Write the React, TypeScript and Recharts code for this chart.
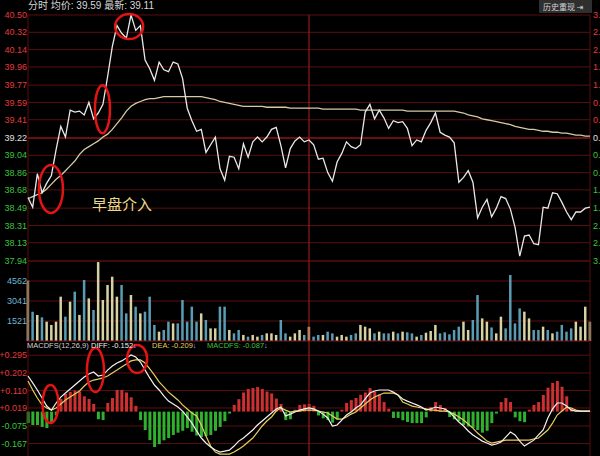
import {
  ComposedChart,
  Line,
  Bar,
  Cell,
  XAxis,
  YAxis,
  CartesianGrid,
  ReferenceLine,
  ReferenceDot,
} from "recharts"

// one point every two minutes of the session
const price = [
  38.6, 38.5, 38.85, 38.65, 38.75, 38.83, 39.1, 39.34, 39.23, 39.51,
  39.49, 39.5, 39.46, 39.59, 39.42, 39.48, 39.57, 39.86, 40.17, 40.39,
  40.31, 40.26, 40.5, 40.34, 40.39, 40.03, 39.94, 39.82, 40.01, 39.93,
  39.91, 40.01, 39.99, 39.84, 39.53, 39.4, 39.29, 39.31, 39.07, 39.15,
  39.23, 38.9, 38.78, 39.03, 39.02, 38.9, 39.16, 39.02, 39.18, 39.23,
  39.18, 39.23, 39.31, 39.33, 39.14, 38.91, 39.11, 39.19, 39.23, 39.18,
  39.2, 39.15, 39.0, 39.01, 38.86, 38.77, 38.97, 39.06, 39.18, 39.13,
  39.11, 39.15, 39.49, 39.57, 39.42, 39.51, 39.43, 39.32, 39.4, 39.38,
  39.39, 39.32, 39.14, 39.2, 39.18, 39.3, 39.38, 39.48, 39.28, 39.25,
  39.23, 39.17, 38.76, 38.81, 38.88, 38.76, 38.39, 38.5, 38.58, 38.4,
  38.49, 38.61, 38.59, 38.48, 38.29, 37.99, 38.2, 38.21, 38.12, 38.11,
  38.5, 38.49, 38.65, 38.64, 38.55, 38.45, 38.37, 38.45, 38.45, 38.49,
  38.5,
]

const avgPrice = [
  38.59, 38.61, 38.63, 38.65, 38.69, 38.74, 38.79, 38.83, 38.88, 38.93,
  38.98, 39.05, 39.1, 39.13, 39.16, 39.19, 39.23, 39.26, 39.31, 39.37,
  39.43, 39.5, 39.55, 39.58, 39.6, 39.62, 39.63, 39.63, 39.64, 39.65,
  39.65, 39.65, 39.65, 39.65, 39.65, 39.65, 39.65, 39.65, 39.64, 39.63,
  39.62, 39.6, 39.59, 39.58, 39.57, 39.56, 39.55, 39.55, 39.55, 39.55,
  39.55, 39.54, 39.54, 39.54, 39.54, 39.54, 39.53, 39.53, 39.53, 39.53,
  39.53, 39.53, 39.53, 39.52, 39.52, 39.52, 39.52, 39.52, 39.52, 39.52,
  39.52, 39.51, 39.51, 39.51, 39.51, 39.51, 39.51, 39.51, 39.51, 39.51,
  39.51, 39.5, 39.5, 39.5, 39.5, 39.5, 39.5, 39.5, 39.5, 39.5,
  39.5, 39.5, 39.49, 39.48, 39.46, 39.45, 39.44, 39.42, 39.41, 39.4,
  39.39, 39.38, 39.37, 39.36, 39.34, 39.33, 39.32, 39.31, 39.31, 39.3,
  39.29, 39.29, 39.28, 39.28, 39.27, 39.27, 39.26, 39.25, 39.25, 39.24,
  39.24,
]

const volume = [
  4600, 2230, 1980, 1800, 1470, 1220, 1470, 3370, 1850, 2990,
  3750, 1980, 4640, 3240, 2360, 6000, 3120, 4260, 4890, 3370,
  4260, 2100, 3500, 2610, 2100, 2230, 3370, 1220, 710, 840,
  1470, 1340, 1340, 3120, 1470, 2610, 1470, 2100, 1600, 960,
  960, 2610, 2610, 840, 580, 840, 460, 330, 460, 330,
  460, 580, 580, 460, 1600, 580, 330, 580, 840, 460,
  1080, 330, 460, 460, 710, 580, 330, 460, 330, 460,
  580, 1220, 1090, 960, 580, 710, 580, 580, 710, 580,
  710, 660, 580, 330, 460, 630, 760, 1220, 580, 660,
  510, 840, 1090, 1470, 840, 1600, 3500, 1720, 1470, 1030,
  580, 1850, 960, 5020, 1340, 2480, 2230, 1720, 840, 840,
  1090, 840, 580, 710, 1220, 710, 960, 1470, 1090, 2610,
  1470,
]

const diff = [
  0.186, 0.15, 0.113, 0.071, 0.029, 0.008, 0.045, 0.076, 0.097, 0.118,
  0.139, 0.16, 0.181, 0.197, 0.207, 0.186, 0.191, 0.217, 0.238, 0.254,
  0.265, 0.28, 0.296, 0.285, 0.259, 0.217, 0.176, 0.139, 0.113, 0.082,
  0.055, 0.04, 0.024, 0.003, -0.028, -0.06, -0.101, -0.138, -0.164, -0.185,
  -0.201, -0.211, -0.206, -0.201, -0.18, -0.154, -0.138, -0.117, -0.096, -0.07,
  -0.049, -0.028, -0.007, 0.014, 0.024, -0.023, -0.013, -0.002, 0.008, 0.014,
  0.019, 0.014, 0.003, -0.013, -0.033, -0.075, -0.07, -0.044, -0.018, -0.002,
  0.019, 0.035, 0.066, 0.097, 0.108, 0.113, 0.113, 0.113, 0.102, 0.087,
  0.066, 0.055, 0.045, 0.035, 0.024, 0.008, 0.014, 0.024, 0.019, 0.014,
  -0.002, -0.028, -0.054, -0.075, -0.101, -0.122, -0.138, -0.154, -0.164, -0.175,
  -0.169, -0.159, -0.133, -0.107, -0.122, -0.154, -0.18, -0.164, -0.149, -0.122,
  -0.096, -0.033, 0.014, 0.045, 0.045, 0.029, 0.008, 0.003, 0.003, 0.003,
  0.003,
]

const dea = [
  0.16, 0.113, 0.071, 0.035, 0.019, 0.008, 0.019, 0.04, 0.061, 0.076,
  0.092, 0.108, 0.134, 0.155, 0.165, 0.17, 0.176, 0.186, 0.202, 0.217,
  0.233, 0.249, 0.265, 0.27, 0.27, 0.254, 0.223, 0.191, 0.155, 0.129,
  0.102, 0.082, 0.061, 0.035, 0.014, -0.007, -0.023, -0.07, -0.128, -0.18,
  -0.211, -0.222, -0.222, -0.222, -0.211, -0.196, -0.18, -0.159, -0.138, -0.107,
  -0.075, -0.049, -0.028, 0.003, 0.019, 0.008, -0.002, 0.003, 0.003, 0.008,
  0.008, 0.008, 0.003, -0.002, -0.007, -0.023, -0.039, -0.039, -0.028, -0.013,
  -0.002, 0.019, 0.04, 0.061, 0.076, 0.087, 0.097, 0.097, 0.097, 0.087,
  0.05, 0.04, 0.029, 0.024, 0.019, 0.014, 0.008, 0.008, 0.003, 0.003,
  -0.002, -0.013, -0.028, -0.044, -0.065, -0.086, -0.112, -0.133, -0.154, -0.164,
  -0.159, -0.154, -0.149, -0.149, -0.149, -0.149, -0.149, -0.149, -0.143, -0.138,
  -0.117, -0.096, -0.06, -0.018, 0.003, 0.024, 0.019, 0.008, 0.003, 0.003,
  0.003,
]

const macd = [
  -0.06, -0.07, -0.07, -0.08, -0.086, -0.06, -0.02, 0.066, 0.092, 0.103,
  0.11, 0.105, 0.08, 0.066, 0.04, -0.04, -0.044, 0.045, 0.071, 0.113,
  0.113, 0.1, 0.075, 0.03, -0.044, -0.096, -0.149, -0.185, -0.17, -0.15,
  -0.138, -0.122, -0.11, -0.1, -0.086, -0.105, -0.125, -0.133, -0.128, -0.122,
  -0.1, -0.08, -0.05, -0.01, 0.035, 0.065, 0.1, 0.118, 0.123, 0.128,
  0.118, 0.105, 0.095, 0.068, 0.04, -0.044, -0.04, 0.01, 0.035, 0.038,
  0.04, 0.03, -0.02, -0.035, -0.044, -0.058, -0.04, 0.01, 0.045, 0.06,
  0.071, 0.088, 0.1, 0.123, 0.105, 0.09, 0.05, 0.015, -0.033, -0.033,
  -0.045, -0.054, -0.06, -0.06, -0.06, -0.03, 0.024, 0.05, 0.035, 0.019,
  -0.028, -0.04, -0.05, -0.07, -0.078, -0.085, -0.096, -0.11, -0.1, -0.06,
  -0.01, 0.05, 0.071, 0.05, -0.03, -0.05, -0.055, 0.01, 0.035, 0.05,
  0.087, 0.125, 0.15, 0.16, 0.13, 0.08, 0.02, 0.005, 0.004, 0.003,
  0.002,
]

const priceTicks = [
  37.94, 38.13, 38.31, 38.49, 38.68, 38.86, 39.04, 39.22,
  39.41, 39.59, 39.77, 39.96, 40.14, 40.32, 40.5,
]
const volumeTicks = [1521, 3041, 4562]
const macdTicks = [-0.167, -0.075, 0.019, 0.11, 0.202, 0.295]
const PREV_CLOSE = 39.22

// red circles drawn on the picture (x = point index, y = value)
const priceCircles = [
  { i: 4.9, v: 38.69, rx: 12, ry: 24 },
  { i: 15.9, v: 39.52, rx: 7.5, ry: 24 },
  { i: 21.6, v: 40.38, rx: 14, ry: 12.5 },
]
const macdCircles = [
  { i: 4.8, v: 0.04, rx: 8, ry: 19 },
  { i: 14.4, v: 0.217, rx: 8.5, ry: 22 },
  { i: 23.3, v: 0.275, rx: 10, ry: 14 },
]

const rows = price.map((p, i) => ({
  i,
  price: p,
  avg: avgPrice[i],
  vol: volume[i],
  diff: diff[i],
  dea: dea[i],
  macd: macd[i],
}))

const GRID = "#5a0f0f"
const MID_LINE = "#b41c1c"
const RED = "#e23a3a"
const GREEN = "#3cc43c"
const NUM_FONT = "'Liberation Sans', Arial, sans-serif"
const CJK_FONT = "'Noto Sans CJK SC', sans-serif"

const PriceTick = (props: any) => {
  const v = props.payload.value
  const fill = v > PREV_CLOSE ? RED : v < PREV_CLOSE ? GREEN : "#e0e0e0"
  return (
    <text x={props.x} y={props.y} dy="0.35em" textAnchor="end" fill={fill} fontSize={9} fontFamily={NUM_FONT}>
      {v.toFixed(2)}
    </text>
  )
}

// percent labels on the right edge, cut by the window as in the original
const PctTick = (props: any) => {
  const v = props.payload.value
  const fill = v > PREV_CLOSE ? RED : v < PREV_CLOSE ? GREEN : "#e0e0e0"
  const pct = (Math.abs(v - PREV_CLOSE) / PREV_CLOSE) * 100
  return (
    <text x={props.x} y={props.y} dy="0.35em" textAnchor="start" fill={fill} fontSize={9} fontFamily={NUM_FONT}>
      {pct.toFixed(2) + "%"}
    </text>
  )
}

const VolTick = (props: any) => (
  <text x={props.x} y={props.y} dy="0.35em" textAnchor="end" fill="#72b6d2" fontSize={9} fontFamily={NUM_FONT}>
    {props.payload.value}
  </text>
)

const MacdTick = (props: any) => {
  const v = props.payload.value
  return (
    <text x={props.x} y={props.y} dy="0.35em" textAnchor="end" fill={v >= 0 ? RED : GREEN} fontSize={9} fontFamily={NUM_FONT}>
      {(v >= 0 ? "+" : "") + v.toFixed(3)}
    </text>
  )
}

const ring = (rx: number, ry: number) => (p: any) => (
  <ellipse cx={p.cx} cy={p.cy} rx={rx} ry={ry} fill="none" stroke="#e31414" strokeWidth={2.5} />
)

const frame = () => [
  <ReferenceLine key="l" x={0} stroke={GRID} />,
  <ReferenceLine key="m" x={60} stroke={MID_LINE} />,
  <ReferenceLine key="r" x={120} stroke={GRID} />,
]

export default function App() {
  return (
    <div
      style={{
        position: "fixed",
        left: 0,
        top: 0,
        width: 600,
        height: 456,
        background: "#000",
        overflow: "hidden",
      }}
    >
      {/* price panel */}
      <div style={{ position: "absolute", left: 0, top: 0 }}>
        <ComposedChart width={600} height={270} data={rows} margin={{ top: 15, right: 0, bottom: 9, left: 0 }}>
          <CartesianGrid vertical={false} stroke={GRID} />
          <XAxis dataKey="i" type="number" domain={[0, 120]} hide />
          <YAxis
            domain={[37.94, 40.5]}
            ticks={priceTicks}
            interval={0}
            width={28}
            axisLine={false}
            tickLine={false}
            tickSize={0}
            tickMargin={1}
            tick={PriceTick}
          />
          <YAxis
            yAxisId="pct"
            orientation="right"
            domain={[37.94, 40.5]}
            ticks={priceTicks}
            interval={0}
            width={10}
            axisLine={false}
            tickLine={false}
            tickSize={0}
            tickMargin={3}
            tick={PctTick}
          />
          <ReferenceLine y={PREV_CLOSE} stroke="#a41a1a" />
          {frame()}
          <Line yAxisId="pct" dataKey="price" stroke="none" dot={false} isAnimationActive={false} />
          <Line dataKey="avg" stroke="#d2cba4" strokeWidth={1.3} dot={false} isAnimationActive={false} />
          <Line dataKey="price" stroke="#e8e8e8" strokeWidth={1.3} dot={false} isAnimationActive={false} />
          {priceCircles.map((c, k) => (
            <ReferenceDot key={k} x={c.i} y={c.v} r={0} ifOverflow="visible" shape={ring(c.rx, c.ry)} />
          ))}
        </ComposedChart>
      </div>

      {/* volume panel */}
      <div style={{ position: "absolute", left: 0, top: 251 }}>
        <ComposedChart width={600} height={100} data={rows} margin={{ top: 10, right: 10, bottom: 10, left: 0 }}>
          <CartesianGrid vertical={false} stroke={GRID} />
          <XAxis dataKey="i" type="number" domain={[0, 120]} hide />
          <YAxis
            domain={[0, 6083]}
            ticks={volumeTicks}
            interval={0}
            width={28}
            axisLine={false}
            tickLine={false}
            tickSize={0}
            tickMargin={1}
            tick={VolTick}
          />
          {frame()}
          <Bar dataKey="vol" barSize={2.5} isAnimationActive={false}>
            {rows.map((r, k) => (
              <Cell key={k} fill={k > 0 && r.price < rows[k - 1].price ? "#5a9cb4" : "#d6d2a2"} />
            ))}
          </Bar>
        </ComposedChart>
      </div>

      {/* MACD panel */}
      <div style={{ position: "absolute", left: 0, top: 331 }}>
        <ComposedChart width={600} height={140} data={rows} margin={{ top: 10, right: 10, bottom: 10, left: 0 }}>
          <CartesianGrid vertical={false} stroke={GRID} />
          <XAxis dataKey="i" type="number" domain={[0, 120]} hide />
          <YAxis
            domain={[-0.258, 0.369]}
            ticks={macdTicks}
            interval={0}
            width={28}
            axisLine={false}
            tickLine={false}
            tickSize={0}
            tickMargin={1}
            tick={MacdTick}
          />
          {frame()}
          <Bar dataKey="macd" barSize={3} isAnimationActive={false}>
            {rows.map((r, k) => (
              <Cell key={k} fill={r.macd >= 0 ? "#cc3030" : "#2fb02f"} />
            ))}
          </Bar>
          <Line dataKey="dea" stroke="#e6cf5c" strokeWidth={1.2} dot={false} isAnimationActive={false} />
          <Line dataKey="diff" stroke="#f2f2f2" strokeWidth={1.2} dot={false} isAnimationActive={false} />
          {macdCircles.map((c, k) => (
            <ReferenceDot key={k} x={c.i} y={c.v} r={0} ifOverflow="visible" shape={ring(c.rx, c.ry)} />
          ))}
        </ComposedChart>
      </div>

      {/* header texts */}
      <div
        style={{
          position: "absolute",
          left: 28,
          top: 0,
          fontSize: 10,
          lineHeight: "12px",
          color: "#d8d8d8",
          fontFamily: `${NUM_FONT}, ${CJK_FONT}`,
          whiteSpace: "nowrap",
        }}
      >
        分时 均价: 39.59 最新: 39.11
      </div>
      <div
        style={{
          position: "absolute",
          left: 539,
          top: 0,
          width: 53,
          height: 13,
          background: "#2f2f2f",
          color: "#d4d4d4",
          fontSize: 8,
          lineHeight: "13px",
          fontFamily: `${CJK_FONT}, 'DejaVu Sans'`,
          whiteSpace: "nowrap",
          paddingLeft: 4,
          boxSizing: "border-box",
        }}
      >
        历史重现 <span style={{ fontFamily: "'DejaVu Sans'" }}>⇥</span>
      </div>
      <div
        style={{
          position: "absolute",
          left: 92,
          top: 195,
          fontSize: 15,
          lineHeight: "18px",
          color: "#e8d88e",
          fontFamily: CJK_FONT,
          whiteSpace: "nowrap",
        }}
      >
        早盘介入
      </div>
      <div
        style={{
          position: "absolute",
          left: 27,
          top: 341,
          fontSize: 7.5,
          lineHeight: "10px",
          fontFamily: `${NUM_FONT}, 'DejaVu Sans'`,
          whiteSpace: "nowrap",
        }}
      >
        <span style={{ color: "#d0d0d0", position: "absolute", left: 0 }}>MACDFS(12,26,9)</span>
        <span style={{ color: "#f0f0f0", position: "absolute", left: 64 }}>
          DIFF: -0.152<span style={{ color: "#7cc4ff" }}>↓</span>
        </span>
        <span style={{ color: "#e6cf5c", position: "absolute", left: 125 }}>
          DEA: -0.209<span style={{ color: "#7cc4ff" }}>↓</span>
        </span>
        <span style={{ color: "#3cc43c", position: "absolute", left: 180 }}>
          MACDFS: -0.087<span style={{ color: "#7cc4ff" }}>↓</span>
        </span>
      </div>
    </div>
  )
}
